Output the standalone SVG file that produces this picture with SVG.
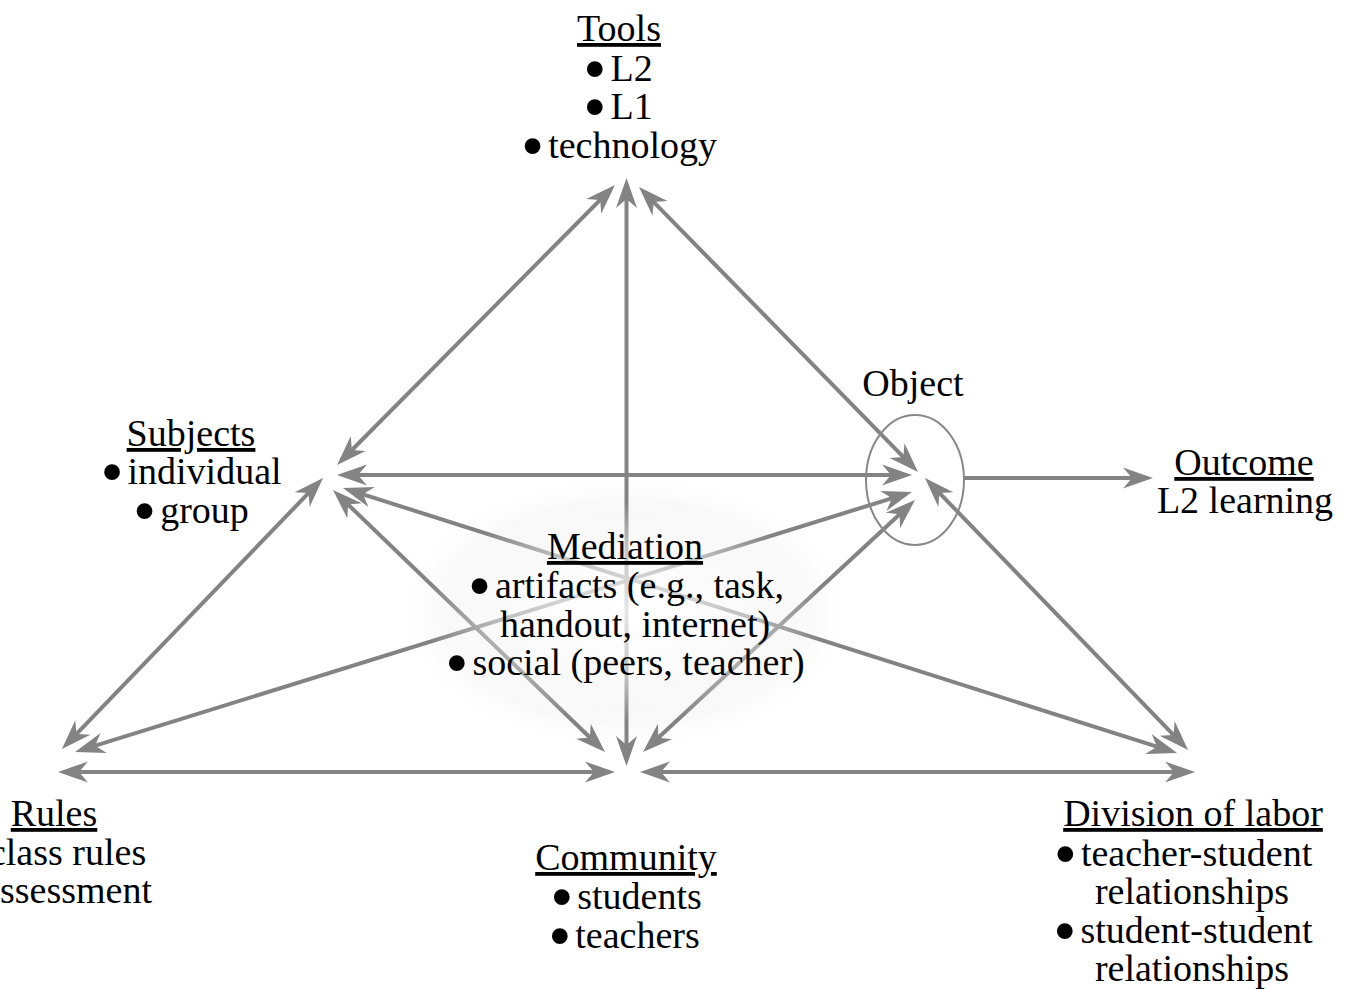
<svg xmlns="http://www.w3.org/2000/svg" width="1348" height="989" viewBox="0 0 1348 989">
<style>
text{font-family:"Liberation Serif","Times New Roman",serif;font-size:38px;fill:#000;text-anchor:middle}
.u{text-decoration:underline}
.b{font-size:66px}
.c line{stroke:#838383;stroke-width:4;marker-start:url(#ah);marker-end:url(#ah)}
.c line.one{marker-start:none}
</style>
<defs>
<marker id="ah" markerUnits="userSpaceOnUse" markerWidth="40" markerHeight="30" refX="18" refY="11" orient="auto-start-reverse" overflow="visible">
<path d="M30,11 L0,0.5 L9,11 L0,21.5 Z" fill="#838383"/>
</marker>
<radialGradient id="haze" cx="0.5" cy="0.5" r="0.5">
<stop offset="0" stop-color="#ffffff"/>
<stop offset="0.55" stop-color="#f5f5f5"/>
<stop offset="0.8" stop-color="#f9f9f9"/>
<stop offset="1" stop-color="#ffffff" stop-opacity="0"/>
</radialGradient>
<radialGradient id="fade" cx="0.5" cy="0.5" r="0.5">
<stop offset="0" stop-color="#ffffff" stop-opacity="0.8"/>
<stop offset="0.6" stop-color="#ffffff" stop-opacity="0.5"/>
<stop offset="1" stop-color="#ffffff" stop-opacity="0"/>
</radialGradient>
</defs>
<rect width="1348" height="989" fill="#ffffff"/>
<ellipse cx="626" cy="612" rx="230" ry="140" fill="url(#haze)"/>
<g id="connectors" class="c">
<line x1="606.5" y1="193.5" x2="345.5" y2="456.5"/>
<line x1="647.4" y1="195.6" x2="909.6" y2="463.4"/>
<line x1="626.5" y1="190" x2="626.5" y2="754"/>
<line x1="349" y1="475" x2="900" y2="475"/>
<line x1="314.7" y1="486.6" x2="70.3" y2="740.4"/>
<line x1="354.4" y1="491.6" x2="1165.6" y2="749.4"/>
<line x1="341.6" y1="498.3" x2="596.4" y2="743.7"/>
<line x1="906.2" y1="508.2" x2="651.8" y2="743.8"/>
<line x1="900.5" y1="495.6" x2="86.5" y2="748.4"/>
<line x1="933.3" y1="486.6" x2="1179.7" y2="741.4"/>
<line x1="70" y1="772" x2="603" y2="772"/>
<line x1="652" y1="772" x2="1183" y2="772"/>
<line class="one" x1="964" y1="478" x2="1141" y2="478"/>
</g>
<ellipse cx="626" cy="612" rx="200" ry="110" fill="url(#fade)"/>
<g id="object">
<ellipse cx="915" cy="480" rx="49" ry="65" fill="none" stroke="#888888" stroke-width="2"/>
<text x="913" y="396">Object</text>
</g>
<g id="tools">
<text x="619" y="41" class="u">Tools</text>
<text x="618" y="81"><tspan class="b" dy="10">•</tspan><tspan dy="-10" dx="4">L2</tspan></text>
<text x="618" y="119"><tspan class="b" dy="10">•</tspan><tspan dy="-10" dx="4">L1</tspan></text>
<text x="619" y="158"><tspan class="b" dy="10">•</tspan><tspan dy="-10" dx="4">technology</tspan></text>
</g>
<g id="subjects">
<text x="191" y="446" class="u">Subjects</text>
<text x="191" y="484"><tspan class="b" dy="10">•</tspan><tspan dy="-10" dx="4">individual</tspan></text>
<text x="191" y="523"><tspan class="b" dy="10">•</tspan><tspan dy="-10" dx="4">group</tspan></text>
</g>
<g id="outcome">
<text x="1244" y="475" class="u">Outcome</text>
<text x="1245" y="513">L2 learning</text>
</g>
<g id="mediation">
<text x="625" y="559" class="u">Mediation</text>
<text x="626" y="598"><tspan class="b" dy="10">•</tspan><tspan dy="-10" dx="4">artifacts (e.g., task,</tspan></text>
<text x="500" y="637" style="text-anchor:start">handout, internet)</text>
<text x="625" y="675"><tspan class="b" dy="10">•</tspan><tspan dy="-10" dx="4">social (peers, teacher)</tspan></text>
</g>
<g id="rules">
<text x="54" y="826" class="u">Rules</text>
<text x="54" y="865"><tspan class="b" dy="10">•</tspan><tspan dy="-10" dx="4">class rules</tspan></text>
<text x="54" y="903"><tspan class="b" dy="10">•</tspan><tspan dy="-10" dx="4">assessment</tspan></text>
</g>
<g id="community">
<text x="626" y="870" class="u">Community</text>
<text x="626" y="909"><tspan class="b" dy="10">•</tspan><tspan dy="-10" dx="4">students</tspan></text>
<text x="624" y="948"><tspan class="b" dy="10">•</tspan><tspan dy="-10" dx="4">teachers</tspan></text>
</g>
<g id="division">
<text x="1193" y="826" class="u">Division of labor</text>
<text x="1183" y="866"><tspan class="b" dy="10">•</tspan><tspan dy="-10" dx="4">teacher-student</tspan></text>
<text x="1192" y="904">relationships</text>
<text x="1183" y="943"><tspan class="b" dy="10">•</tspan><tspan dy="-10" dx="4">student-student</tspan></text>
<text x="1192" y="981">relationships</text>
</g>
</svg>
